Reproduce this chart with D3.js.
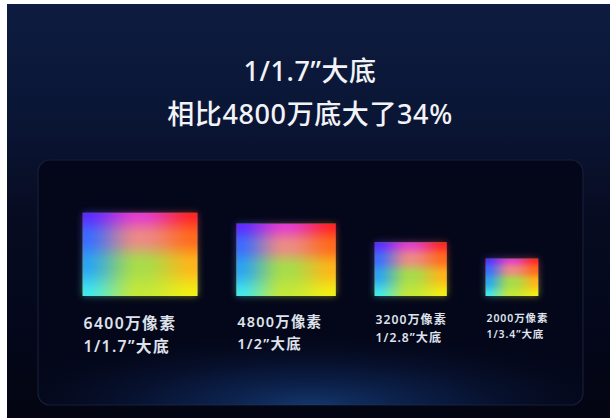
<!DOCTYPE html>
<html>
<head>
<meta charset="utf-8">
<script src="https://cdn.jsdelivr.net/npm/d3@7"></script>
<style>
  html, body { margin: 0; padding: 0; background: #ffffff; }
  svg { display: block; }
</style>
</head>
<body>
<script>
// Sensor line-up: resolution, optical format and sensor size (mm)
const pixelLabels = ["6400万像素", "4800万像素", "3200万像素", "2000万像素"];
const formatLabels = ["1/1.7\u201D大底", "1/2\u201D大底", "1/2.8\u201D大底", "1/3.4\u201D大底"];
const sensorWidth = [7.4, 6.4, 4.65, 3.4];
const sensorHeight = [5.35, 4.65, 3.45, 2.4];
const titleLines = ["1/1.7\u201D大底", "相比4800万底大了34%"];

const W = 613, H = 418;
const FONT = "'Noto Sans', 'Noto Sans CJK SC', sans-serif";
const svg = d3.select("body").append("svg").attr("width", W).attr("height", H);
const defs = svg.append("defs");

// ---- backdrop ----
const bg = defs.append("linearGradient").attr("id", "bg").attr("x1", 0).attr("y1", 0).attr("x2", 0).attr("y2", 1);
[[0, "#0d1c40"], [0.3, "#0a1534"], [0.5, "#070c22"], [0.8, "#04071a"], [1, "#030512"]]
  .forEach(([o, c]) => bg.append("stop").attr("offset", o).attr("stop-color", c));

const frame = { x: 7, y: 4, w: 603, h: 414 };
svg.append("rect").attr("x", frame.x).attr("y", frame.y).attr("width", frame.w).attr("height", frame.h).attr("fill", "url(#bg)");

// panel holding the sensors
const panel = { x: 38, y: 160, w: 545, h: 245 };
const glow = defs.append("radialGradient").attr("id", "panelGlow")
  .attr("cx", 0.5).attr("cy", 1.0).attr("r", 0.6).attr("fx", 0.5).attr("fy", 1.0)
  .attr("gradientTransform", "translate(0.5,1) scale(1,0.5) translate(-0.5,-1)");
[[0, "#1a4a90", 0.7], [0.45, "#10306a", 0.4], [1, "#050a20", 0]]
  .forEach(([o, c, a]) => glow.append("stop").attr("offset", o).attr("stop-color", c).attr("stop-opacity", a));

svg.append("rect").attr("x", panel.x).attr("y", panel.y).attr("width", panel.w).attr("height", panel.h)
  .attr("rx", 12).attr("fill", "#04071a").attr("stroke", "#161f36").attr("stroke-width", 1.2);
svg.append("rect").attr("x", panel.x).attr("y", panel.y).attr("width", panel.w).attr("height", panel.h)
  .attr("rx", 12).attr("fill", "url(#panelGlow)");

// ---- spectrum texture for sensor faces (smooth blend of a colour grid) ----
const gridRows = [0, 0.3, 0.62, 1];
const gridCols = [0, 0.5, 1];
const gridColours = [
  ["#5a2cff", "#e23cd0", "#ff2424"],
  ["#3a6cff", "#ec8a86", "#ff6a1c"],
  ["#2aa4f2", "#a8dc4a", "#ffb41a"],
  ["#40e8f0", "#c4e83a", "#f4ee12"]
];
function spectrumURL() {
  const tw = 160, th = 120;
  const cv = document.createElement("canvas");
  cv.width = tw; cv.height = th;
  const ctx = cv.getContext("2d");
  const img = ctx.createImageData(tw, th);
  const rgb = gridColours.map(r => r.map(c => d3.rgb(c)));
  const seg = (stops, t) => {
    let k = 0;
    while (k < stops.length - 2 && t > stops[k + 1]) k++;
    let s = (t - stops[k]) / (stops[k + 1] - stops[k]);
    s = s * s * (3 - 2 * s);
    return [k, s];
  };
  const mix = (a, b, s) => ({ r: a.r + (b.r - a.r) * s, g: a.g + (b.g - a.g) * s, b: a.b + (b.b - a.b) * s });
  for (let j = 0; j < th; j++) {
    const [rk, rs] = seg(gridRows, j / (th - 1));
    for (let i = 0; i < tw; i++) {
      const [ck, cs] = seg(gridCols, i / (tw - 1));
      const top = mix(rgb[rk][ck], rgb[rk][ck + 1], cs);
      const bot = mix(rgb[rk + 1][ck], rgb[rk + 1][ck + 1], cs);
      const c = mix(top, bot, rs);
      const k = (j * tw + i) * 4;
      img.data[k] = c.r; img.data[k + 1] = c.g; img.data[k + 2] = c.b; img.data[k + 3] = 255;
    }
  }
  ctx.putImageData(img, 0, 0);
  return cv.toDataURL();
}
const pat = defs.append("pattern").attr("id", "spectrum")
  .attr("patternContentUnits", "objectBoundingBox").attr("width", 1).attr("height", 1);
pat.append("image").attr("href", spectrumURL()).attr("width", 1).attr("height", 1)
  .attr("preserveAspectRatio", "none");

const blur = defs.append("filter").attr("id", "halo").attr("x", -0.3).attr("y", -0.3).attr("width", 1.6).attr("height", 1.6);
blur.append("feGaussianBlur").attr("stdDeviation", 3.5);

// ---- scales ----
const mm = d3.scaleLinear().domain([0, 1]).range([0, 15.55]);
const baseY = 296;
const y = d3.scaleLinear().domain([0, 6]).range([baseY, baseY - mm(6)]);
const gap = 38.7;
const totalW = d3.sum(sensorWidth, mm) + gap * (sensorWidth.length - 1);
const startX = panel.x + panel.w / 2 - totalW / 2;
const xLeft = sensorWidth.map((w, i) => startX + d3.sum(sensorWidth.slice(0, i), mm) + gap * i);
const fontSize = d3.scaleLinear().domain([3.4, 7.4]).range([10, 15]);

const data = pixelLabels.map((p, i) => ({
  p, f: formatLabels[i], w: sensorWidth[i], h: sensorHeight[i], x: xLeft[i]
}));

const g = svg.append("g");
// soft coloured halo behind each sensor
g.selectAll("rect.halo").data(data).join("rect").attr("class", "halo")
  .attr("x", d => d.x).attr("y", d => y(d.h)).attr("width", d => mm(d.w)).attr("height", d => baseY - y(d.h))
  .attr("fill", "url(#spectrum)").attr("opacity", 0.5).attr("filter", "url(#halo)");
g.selectAll("rect.sensor").data(data).join("rect").attr("class", "sensor")
  .attr("x", d => d.x).attr("y", d => y(d.h)).attr("width", d => mm(d.w)).attr("height", d => baseY - y(d.h))
  .attr("fill", "url(#spectrum)");

// labels under each sensor
const lab = g.selectAll("g.lab").data(data).join("g").attr("class", "lab");
lab.append("text")
  .attr("x", d => d.x + 1)
  .attr("y", d => baseY + 12 + fontSize(d.w) * 1.4)
  .attr("font-size", d => fontSize(d.w) * 1.05)
  .attr("letter-spacing", d => fontSize(d.w) * 0.09)
  .text(d => d.p);
lab.append("text")
  .attr("x", d => d.x + 1)
  .attr("y", d => baseY + 12 + fontSize(d.w) * 2.95)
  .attr("font-size", d => fontSize(d.w) * 1.05)
  .attr("letter-spacing", d => fontSize(d.w) * 0.09)
  .text(d => d.f);
lab.selectAll("text")
  .attr("fill", "#dfe2ea")
  .attr("font-family", FONT)
  .attr("font-weight", 600);

// ---- headline ----
svg.selectAll("text.title").data(titleLines).join("text").attr("class", "title")
  .attr("x", 310)
  .attr("y", (d, i) => 81 + i * 43)
  .attr("text-anchor", "middle")
  .attr("font-family", FONT)
  .attr("font-size", 27)
  .attr("font-weight", 500)
  .attr("letter-spacing", 0.6)
  .attr("fill", "#f2f3f6")
  .text(d => d);
</script>
</body>
</html>
